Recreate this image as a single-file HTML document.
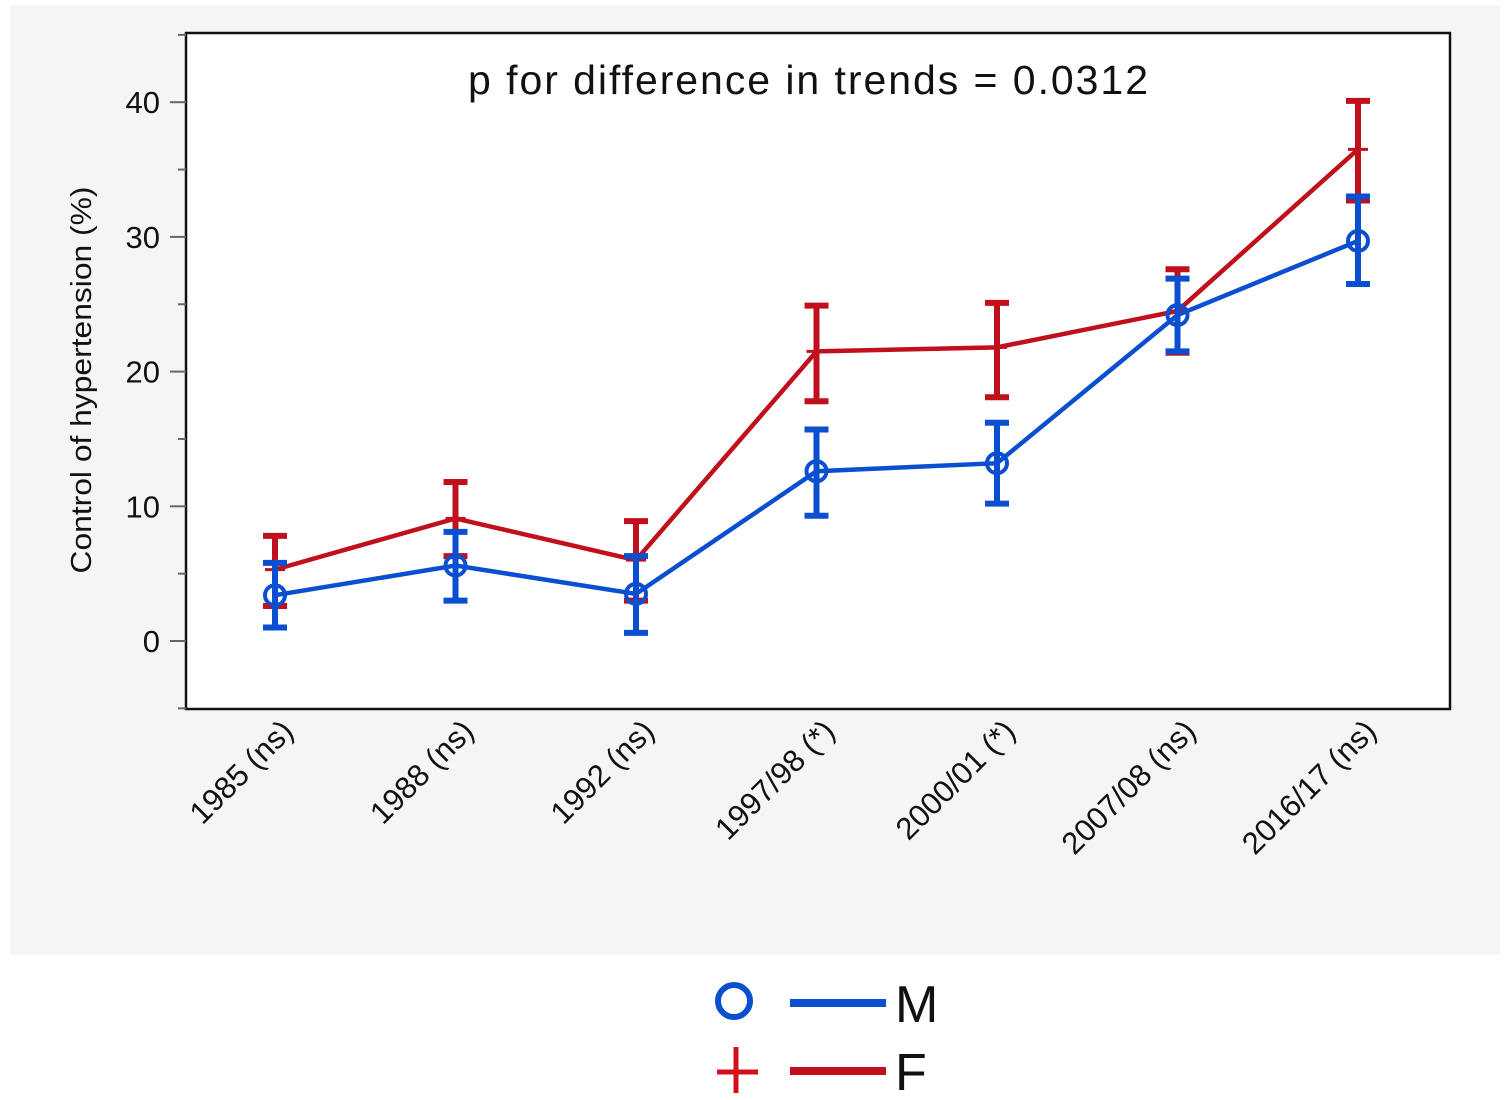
<!DOCTYPE html>
<html><head><meta charset="utf-8"><style>
body{margin:0;background:#fff;}
svg{display:block;font-family:"Liberation Sans",sans-serif;}
</style></head><body>
<svg width="1505" height="1100" viewBox="0 0 1505 1100">
<rect x="10" y="5" width="1490" height="950" fill="#f5f5f5"/>
<rect x="186" y="33" width="1264" height="676" fill="#fff" stroke="#111" stroke-width="2.5"/>
<text x="468" y="94" font-size="41" textLength="680" lengthAdjust="spacing" fill="#111">p for difference in trends = 0.0312</text>
<text transform="translate(91,380) rotate(-90)" font-size="29" text-anchor="middle" textLength="387" lengthAdjust="spacingAndGlyphs" fill="#111">Control of hypertension (%)</text>
<g id="axes"></g>
<g id="marks"></g>
<g>
<circle cx="734" cy="1001" r="16" fill="none" stroke="#0a4fd0" stroke-width="6"/>
<line x1="790" y1="1003" x2="886" y2="1003" stroke="#0a4fd0" stroke-width="8"/>
<text x="895" y="1022" font-size="52" fill="#111">M</text>
<line x1="717" y1="1072" x2="758" y2="1072" stroke="#d0101a" stroke-width="5"/>
<line x1="736" y1="1047" x2="736" y2="1093" stroke="#d0101a" stroke-width="5"/>
<line x1="790" y1="1071" x2="886" y2="1071" stroke="#c0101c" stroke-width="8"/>
<text x="895" y="1090" font-size="52" fill="#111">F</text>
</g>
</svg>
<script>
const categories=["1985 (ns)","1988 (ns)","1992 (ns)","1997/98 (*)","2000/01 (*)","2007/08 (ns)","2016/17 (ns)"];
const mValues=[3.4,5.6,3.5,12.6,13.2,24.2,29.7];
const mLow=[1.0,3.0,0.6,9.3,10.2,21.5,26.5];
const mHigh=[5.8,8.1,6.3,15.7,16.2,26.9,33.0];
const fValues=[5.3,9.1,6.0,21.5,21.8,24.5,36.5];
const fLow=[2.6,6.3,3.0,17.8,18.1,21.4,32.7];
const fHigh=[7.8,11.8,8.9,24.9,25.1,27.6,40.1];
const yTicks=[0,10,20,30,40];
const NS="http://www.w3.org/2000/svg";
const xs=i=>275+i*180.5;
const ys=v=>641-v*13.47;
function mk(tag,attrs,parent,text){const e=document.createElementNS(NS,tag);for(const k in attrs)e.setAttribute(k,attrs[k]);if(text!==undefined)e.textContent=text;parent.appendChild(e);return e;}
const axes=document.getElementById('axes'),marks=document.getElementById('marks');
yTicks.forEach((t,i)=>{
 const tk=mk('line',{x1:170,x2:186,y1:ys(t),y2:ys(t),stroke:'#666','stroke-width':2},axes);
 
 
 const lb=mk('text',{x:160,y:ys(t)+11,'font-size':31,'text-anchor':'end',fill:'#111'},axes,String(t));
 
 
});
[-5,5,15,25,35,45].forEach(t=>{
 const tk=mk('line',{x1:178,x2:186,y1:ys(t),y2:ys(t),stroke:'#666','stroke-width':2},axes);
 
 
});
categories.forEach((c,i)=>{
 const lb=mk('text',{transform:`translate(${xs(i)+20},${733}) rotate(-45)`,'font-size':31,'text-anchor':'end',fill:'#111'},axes,c);
 
 
});
function series(vals,lo,hi,color,name,isCircle){
 const g=mk('g',{},marks);
 
 
 lo.forEach((l,i)=>{
  const x=xs(i);
  const eb=mk('path',{d:`M${x},${ys(l)}V${ys(hi[i])}M${x-12},${ys(l)}H${x+12}M${x-12},${ys(hi[i])}H${x+12}`,stroke:color,'stroke-width':6,fill:'none'},g);
  
  
 });
 const ln=mk('polyline',{points:vals.map((v,i)=>xs(i)+','+ys(v)).join(' '),stroke:color,'stroke-width':4.5,fill:'none'},g);
 
 
 vals.forEach((v,i)=>{
  let p;
  if(isCircle){p=mk('circle',{cx:xs(i),cy:ys(v),r:10,fill:'none',stroke:color,'stroke-width':4},g);}
  else{p=mk('path',{d:`M${xs(i)-10},${ys(v)}H${xs(i)+10}M${xs(i)},${ys(v)-10}V${ys(v)+10}`,stroke:color,'stroke-width':3},g);}
  
  
 });
}
series(fValues,fLow,fHigh,'#c0101c','f',false);
series(mValues,mLow,mHigh,'#0a4fd0','m',true);
</script>
</body></html>
